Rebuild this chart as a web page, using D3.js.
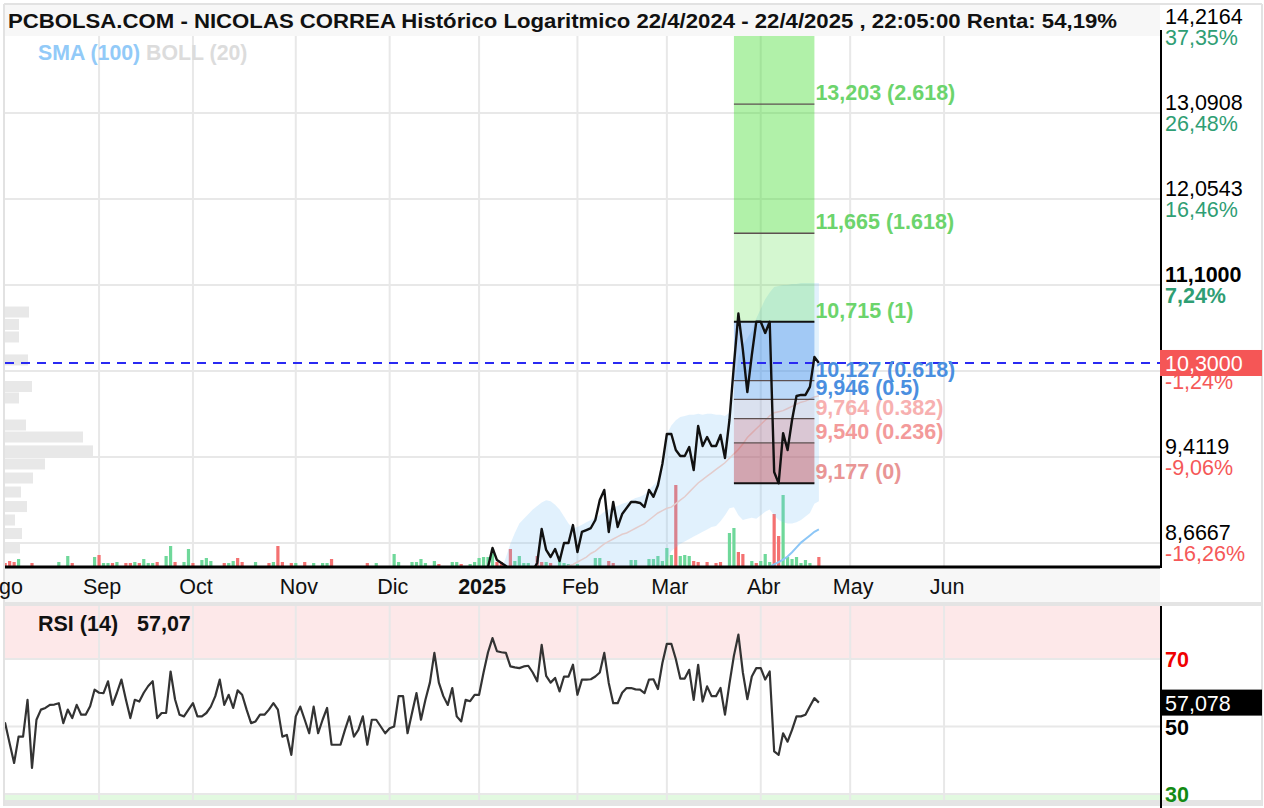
<!DOCTYPE html>
<html><head><meta charset="utf-8">
<script src="https://cdn.jsdelivr.net/npm/d3@7"></script>
<style>body{margin:0;background:#fff}svg{display:block}text{font-family:"Liberation Sans",Arial,sans-serif}</style>
</head><body><svg id="c" width="1264" height="808"></svg>
<script>
// ---------------- DATA ----------------
const titleText = "PCBOLSA.COM - NICOLAS CORREA Histórico Logaritmico 22/4/2024 - 22/4/2025 , 22:05:00 Renta: 54,19%";
const holidays = ["2024-12-25","2024-12-26","2025-01-01","2025-04-18","2025-04-21","2025-05-01"];
const monthKeys = ["2024-08","2024-09","2024-10","2024-11","2024-12","2025-01","2025-02","2025-03","2025-04","2025-05","2025-06"];
const monthLabels = ["Ago","Sep","Oct","Nov","Dic","2025","Feb","Mar","Abr","May","Jun"];

const priceTicks = [14.2164, 13.0908, 12.0543, 11.1, 10.2213, 9.4119, 8.6667];
const priceTickLabels = ["14,2164","13,0908","12,0543","11,1000","10,2213","9,4119","8,6667"];
const pctTickLabels = ["37,35%","26,48%","16,46%","7,24%","-1,24%","-9,06%","-16,26%"];
const boldTick = 11.1;
const lastPrice = 10.3, lastPriceLabel = "10,3000";

const closeStart = "2025-01-02";
const closeVals = [8.36,8.40,8.47,8.625,8.526,8.502,8.478,8.43,8.40,8.38,
8.36,8.40,8.44,8.502,8.784,8.609,8.551,8.617,8.518,8.667,
8.667,8.817,8.592,8.759,8.775,8.792,8.86,9.031,9.119,8.759,
9.014,8.801,8.911,8.962,9.014,9.014,9.006,8.971,9.119,9.06,
9.16,9.35,9.622,9.622,9.475,9.421,9.421,9.503,9.295,9.696,
9.512,9.594,9.512,9.512,9.613,9.403,9.752,10.28,10.80,10.43,
10.017,10.379,10.715,10.715,10.601,10.715,9.277,9.177,9.63,9.475,
9.752,9.979,9.989,9.989,10.066,10.359,10.30];

const bollUpper = [8.20,8.22,8.25,8.32,8.38,8.44,8.55,8.66,8.75,8.83,
8.87,8.91,8.95,8.98,9.01,9.03,9.02,8.99,8.95,8.89,
8.83,8.79,8.80,8.82,8.84,8.86,8.88,8.90,8.93,8.95,
8.97,8.98,9.00,9.01,9.03,9.05,9.06,9.08,9.12,9.16,
9.20,9.40,9.62,9.70,9.75,9.78,9.79,9.80,9.80,9.81,
9.80,9.81,9.81,9.80,9.80,9.79,9.82,10.05,10.35,10.48,
10.55,10.62,10.75,10.85,10.95,11.02,11.08,11.09,11.10,11.10,
11.11,11.11,11.12,11.12,11.12,11.12,11.12];
const bollLower = [8.05,8.06,8.05,8.02,8.00,7.98,7.97,7.96,7.96,7.97,
7.98,8.00,8.02,8.04,8.03,8.02,8.03,8.05,8.08,8.12,
8.16,8.20,8.22,8.24,8.26,8.28,8.30,8.30,8.29,8.30,
8.32,8.34,8.35,8.37,8.38,8.40,8.41,8.42,8.43,8.44,
8.44,8.45,8.52,8.60,8.63,8.66,8.68,8.70,8.72,8.74,
8.76,8.78,8.80,8.81,8.85,8.90,8.96,8.97,8.90,8.86,
8.87,8.88,8.87,8.90,8.93,8.95,8.90,8.86,8.84,8.83,
8.83,8.84,8.86,8.89,8.92,9.00,9.02];
const bollMid = [8.12,8.13,8.14,8.16,8.17,8.19,8.20,8.22,8.24,8.26,
8.28,8.30,8.32,8.34,8.36,8.38,8.40,8.42,8.44,8.46,
8.48,8.49,8.51,8.53,8.55,8.58,8.60,8.63,8.66,8.68,
8.70,8.72,8.74,8.75,8.77,8.79,8.81,8.83,8.86,8.89,
8.92,8.94,8.96,8.97,9.00,9.03,9.06,9.10,9.14,9.18,
9.21,9.24,9.27,9.30,9.33,9.36,9.40,9.44,9.48,9.53,
9.59,9.63,9.67,9.71,9.75,9.79,9.82,9.83,9.84,9.86,
9.88,9.90,9.92,9.93,9.95,9.97,9.98];
const smaStart = "2025-03-27";
const sma100 = [8.35,8.38,8.40,8.43,8.45,8.47,8.49,8.51,8.53,8.555,8.59,8.63,8.67,8.70,8.73,8.76,8.78];

const seriesStart = "2024-08-01";
const volumes = [2,3,5,4,7,0,0,3,0,0, 0,0,0,4,0,10,3,0,0,0, 0,9,11,3,3,3,4,0,3,3,
4,3,7,3,3,4,0,10,20,4, 0,4,17,3,0,6,8,5,0,0, 3,3,5,8,4,0,0,4,0,0,
3,4,20,4,0,3,3,0,4,0, 3,0,3,3,7,0,0,0,0,0, 0,0,3,0,3,0,0,0,12,4,
0,0,4,4,7,3,0,5,2,0, 0,4,4,2,0,2,4,8,9,9, 17,4,4,0,17,5,10,3,3,0,
10,4,4,3,0,10,3,2,0,2, 0,0,0,8,8,0,5,3,0,0, 0,6,6,0,0,7,7,10,5,18,
11,81,10,11,10,5,4,0,4,0, 3,4,0,33,38,14,12,0,5,3, 5,12,4,52,30,71,9,7,9,3, 6,3,0,9];
const volDir = "rrrrgggrgg"+"ggggggrggg"+"ggrggrggrr"+"grgggrgggr"+"gggrgggggg"+"rggrrggggg"+"rgrrgrggrg"+"ggggrggggg"+"ggrggggggg"+"ggggggggrg"+"gggrgggggg"+"grrgrggggg"+"rrgrgggggg"+"ggggggrrgg"+"gggggggggg"+"grgggrrgrg"+"rrgggrrggr"+"gggrrggggg"+"gggr";

const rsiVals = [50,51,45,39.2,47,47,57.9,37.7,52,55, 55.5,56.4,56.5,56.9,51,55,52.5,56.4,53.5,53.5,
56,60.9,60,59.9,63.4,56.4,60,63.9,58,52.5, 57.9,57.4,60,62,63.4,52.5,54,54,66.3,58,
53.5,53,55,56.9,53,53,54,55.9,59,63.9, 56.4,59.4,55.5,60.7,59.4,55,51,51.5,53.5,53.5,
55,56.9,55,47,47.5,41.6,53,55.9,52,48, 55.9,48,52,55.5,44.6,44.6,44.6,49,53,47,
49,53,44.6,52,52,50,48,49.5,50,59, 59,48,54,59.9,52,57.9,63,71.8,63,59,
56.4,61.4,53,51.5,57.9,57.5,59.4,59.4,66,72, 76.2,72.3,72,71.8,67.8,67.5,67.3,67.8,68,66,
63.4,74.2,65,63,64.4,60.4,64.8,64.8,68.3,59.4, 63.9,63.9,64,64.8,66,71.8,62.9,56.9,56.9,60,
61.4,61.4,61,60.9,59.9,63.9,64,61.1,68.8,74.5, 74.5,70,64.2,64.2,66.8,57.9,68.3,57.4,61.9,59,
59,61.4,53.5,62.7,71,77.2,66,58.1,64.8,67.3, 67.3,63.9,66.3,42.6,41.6,48,45.5,49,53,53,
53.5,56,58.4,57.08];
const rsiLabel = "57,07", rsiBoxLabel = "57,078";
const rsiTicks = [70, 50, 30];

const vpPrice = [10.816,10.688,10.560,10.330,10.070,9.960,9.705,9.594,9.467,9.349,9.224,9.101,8.975,8.860,8.746,8.626];
const vpVol   = [24,14,14,23,27,14,21,78,88,40,28,16,22,10,17,15];

const fibFrom = "2025-03-24", fibTo = "2025-04-17";
const fibValues = [9.177, 9.540, 9.764, 9.946, 10.127, 10.715, 11.665, 13.203];
const fibLabels = ["9,177 (0)","9,540 (0.236)","9,764 (0.382)","9,946 (0.5)","10,127 (0.618)","10,715 (1)","11,665 (1.618)","13,203 (2.618)"];
const fibLabelColors = ["#e99595","#f39a9a","#f7b0b0","#4a8fe0","#4a8fe0","#6cd46c","#6cd46c","#6cd46c"];
const fibBandColors = ["rgba(190,60,70,0.42)","rgba(200,80,95,0.26)","rgba(185,140,170,0.16)","rgba(33,120,230,0.2)","rgba(33,120,230,0.33)","rgba(60,220,40,0.22)","rgba(60,220,40,0.40)","rgba(60,220,40,0.40)"];

// ---------------- LAYOUT ----------------
const L = 5, R = 1160, T = 36, B = 567;
const RT = 606, RB = 800;
const svg = d3.select("#c");
const fmt = d3.timeFormat("%Y-%m-%d");
const calendar = d3.timeDay.range(new Date(2024,7,1), new Date(2025,6,1))
  .filter(d => d.getDay()!==0 && d.getDay()!==6 && !holidays.includes(fmt(d)));
const dayIndex = new Map(calendar.map((d,i)=>[fmt(d), i]));
const x = d3.scaleLinear().domain([0, 259.3]).range([0.7, 1160]);
const xs = (start, k) => x(dayIndex.get(start) + k);
const monthX = monthKeys.map(k => x(calendar.findIndex(d => fmt(d).startsWith(k))));
const y = d3.scaleLog().domain([8.6667, 14.2164]).range([543, 27]);
const ry = d3.scaleLinear().domain([30, 70]).range([794, 659]);
const vy = d3.scaleLinear().domain([0, 100]).range([566, 466]);
const vpx = d3.scaleLinear().domain([0, 100]).range([L, L + 100]);

const defs = svg.append("defs");
defs.append("clipPath").attr("id","cp").append("rect").attr("x",L).attr("y",T).attr("width",R-L).attr("height",B-T);
defs.append("clipPath").attr("id","cr").append("rect").attr("x",L).attr("y",RT).attr("width",R-L).attr("height",RB-RT);

svg.append("rect").attr("width",1264).attr("height",808).attr("fill","#fff");

// ---------- main plot ----------
const gm = svg.append("g").attr("clip-path","url(#cp)");
gm.selectAll(".hg").data(priceTicks).join("line")
  .attr("x1",L).attr("x2",R).attr("y1",d=>y(d)).attr("y2",d=>y(d))
  .attr("stroke","#e8e8e8").attr("stroke-width",2);
gm.selectAll(".vg").data(monthX).join("line")
  .attr("x1",d=>d).attr("x2",d=>d).attr("y1",T).attr("y2",B)
  .attr("stroke","#e8e8e8").attr("stroke-width",2);

// volume profile
gm.selectAll(".vp").data(vpPrice).join("rect")
  .attr("x",L).attr("y",d=>y(d)-5.5).attr("height",11)
  .attr("width",(d,i)=>vpx(vpVol[i])-L).attr("fill","#e8e8e8");

// volume bars
gm.selectAll(".vol").data(volumes).join("rect")
  .attr("x",(d,i)=>xs(seriesStart,i)-1.6).attr("width",3.2)
  .attr("y",d=>vy(d)).attr("height",d=>vy(0)-vy(d))
  .attr("fill",(d,i)=>volDir[i]==="g" ? "#6fd89a" : "#f47171");

// bollinger band
const band = d3.area().x((d,k)=>xs(closeStart,k)).y0((d,k)=>y(bollLower[k])).y1(d=>y(d));
gm.append("path").datum(bollUpper).attr("d",band).attr("fill","rgba(120,190,245,0.22)");
gm.append("path").datum(bollMid)
  .attr("d",d3.line().x((d,k)=>xs(closeStart,k)).y(d=>y(d)))
  .attr("fill","none").attr("stroke","#e3cccc").attr("stroke-width",1.5);
gm.append("path").datum(sma100)
  .attr("d",d3.line().x((d,k)=>xs(smaStart,k)).y(d=>y(d)))
  .attr("fill","none").attr("stroke","#8cc6f6").attr("stroke-width",2);

// fibonacci
const fx0 = xs(fibFrom,0), fx1 = xs(fibTo,0);
const fibTops = fibValues.slice(1).concat([null]);
gm.selectAll(".fb").data(fibValues).join("rect")
  .attr("x",fx0).attr("width",fx1-fx0)
  .attr("y",(d,i)=> fibTops[i]===null ? T : y(fibTops[i]))
  .attr("height",(d,i)=> y(d) - (fibTops[i]===null ? T : y(fibTops[i])))
  .attr("fill",(d,i)=>fibBandColors[i]);
gm.selectAll(".fl").data(fibValues).join("line")
  .attr("x1",fx0).attr("x2",fx1).attr("y1",d=>y(d)).attr("y2",d=>y(d))
  .attr("stroke",(d,i)=> (i===0||i===5) ? "#111" : "#5d5050")
  .attr("stroke-width",(d,i)=> (i===0||i===5) ? 2 : 1.3);

// last price dashed line
gm.append("line").attr("x1",L).attr("x2",R).attr("y1",y(lastPrice)).attr("y2",y(lastPrice))
  .attr("stroke","#2a2af2").attr("stroke-width",2).attr("stroke-dasharray","9,7");

// price line
gm.append("path").datum(closeVals)
  .attr("d",d3.line().x((d,k)=>xs(closeStart,k)).y(d=>y(d)))
  .attr("fill","none").attr("stroke","#111").attr("stroke-width",2.4).attr("stroke-linejoin","round");

// fib labels
svg.selectAll(".fbt").data(fibValues).join("text")
  .attr("x",fx1+1).attr("y",d=>y(d)-4)
  .attr("font-size",21.5).attr("font-weight","bold")
  .attr("fill",(d,i)=>fibLabelColors[i]).text((d,i)=>fibLabels[i]);

// indicator legend
const lg = svg.append("text").attr("x",38).attr("y",60).attr("font-size",21.3).attr("font-weight","bold");
lg.append("tspan").attr("fill","#92caf8").text("SMA (100) ");
lg.append("tspan").attr("fill","#dcdcdc").text("BOLL (20)");

// ---------- title bar & frame ----------
svg.append("rect").attr("x",L).attr("y",4).attr("width",R-L).attr("height",T-4).attr("fill","#f7f7f7");
svg.append("text").attr("x",8).attr("y",28).attr("font-family","'Open Sans','Noto Sans',sans-serif")
  .attr("font-weight","bold").attr("font-size",20.5).attr("fill","#111")
  .attr("textLength",1109).attr("lengthAdjust","spacingAndGlyphs").text(titleText);
svg.append("line").attr("x1",4).attr("x2",1262).attr("y1",4).attr("y2",4).attr("stroke","#e2e2e2").attr("stroke-width",2);
svg.append("line").attr("x1",4).attr("x2",4).attr("y1",4).attr("y2",806).attr("stroke","#e2e2e2").attr("stroke-width",2);
svg.append("line").attr("x1",1262).attr("x2",1262).attr("y1",4).attr("y2",806).attr("stroke","#e2e2e2").attr("stroke-width",2);

// ---------- right price axis ----------
svg.append("line").attr("x1",R+1).attr("x2",R+1).attr("y1",30).attr("y2",B+1).attr("stroke","#000").attr("stroke-width",2);
priceTicks.forEach((v,i)=>{
  const yy = y(v);
  svg.append("text").attr("x",1165).attr("y",yy-3).attr("font-size",21.5)
    .attr("font-weight", v===boldTick?"bold":"normal").attr("fill","#000").text(priceTickLabels[i]);
  svg.append("text").attr("x",1165).attr("y",yy+18).attr("font-size",21.5)
    .attr("font-weight", v===boldTick?"bold":"normal")
    .attr("fill", pctTickLabels[i].startsWith("-") ? "#f55858" : "#2f9e74").text(pctTickLabels[i]);
});
svg.append("rect").attr("x",R).attr("y",y(lastPrice)-13).attr("width",102).attr("height",26).attr("fill","#f55656");
svg.append("text").attr("x",1165).attr("y",y(lastPrice)+8).attr("font-size",21.5).attr("fill","#fff").text(lastPriceLabel);

// ---------- x axis band ----------
svg.append("rect").attr("x",L).attr("y",B+1).attr("width",R-L).attr("height",34).attr("fill","#f7f7f7");
svg.append("line").attr("x1",L).attr("x2",R).attr("y1",B).attr("y2",B).attr("stroke","#000").attr("stroke-width",3);
svg.append("rect").attr("x",L).attr("y",602).attr("width",1257).attr("height",4).attr("fill","#e4e4e4");
svg.selectAll(".mt").data(monthX).join("text")
  .attr("x",d=>d+3).attr("y",594).attr("text-anchor","middle").attr("font-size",21.5)
  .attr("font-weight",(d,i)=>monthLabels[i]==="2025"?"bold":"normal").attr("fill","#111")
  .text((d,i)=>monthLabels[i]);

// ---------- RSI panel ----------
const gr = svg.append("g").attr("clip-path","url(#cr)");
gr.append("rect").attr("x",L).attr("y",RT).attr("width",R-L).attr("height",ry(70)-RT).attr("fill","#fde8e9");
gr.append("rect").attr("x",L).attr("y",ry(30)).attr("width",R-L).attr("height",RB-ry(30)).attr("fill","#e2f9e0");
gr.selectAll(".rh").data(rsiTicks).join("line")
  .attr("x1",L).attr("x2",R).attr("y1",d=>ry(d)).attr("y2",d=>ry(d)).attr("stroke","#e8e8e8").attr("stroke-width",2);
gr.selectAll(".rv").data(monthX).join("line")
  .attr("x1",d=>d).attr("x2",d=>d).attr("y1",RT).attr("y2",RB).attr("stroke","#e8e8e8").attr("stroke-width",2);
gr.append("path").datum(rsiVals)
  .attr("d",d3.line().x((d,k)=>xs(seriesStart,k)).y(d=>ry(d)))
  .attr("fill","none").attr("stroke","#333").attr("stroke-width",2.2).attr("stroke-linejoin","round");
svg.append("rect").attr("x",L).attr("y",RB).attr("width",1257).attr("height",6).attr("fill","#e4e4e4");

const rt = svg.append("text").attr("x",38).attr("y",631).attr("font-size",21.5).attr("font-weight","bold").attr("fill","#111");
rt.append("tspan").text("RSI (14)");
rt.append("tspan").attr("x",137).text(rsiLabel);

svg.append("line").attr("x1",R+1).attr("x2",R+1).attr("y1",RT).attr("y2",808).attr("stroke","#000").attr("stroke-width",2);
const rsiTickColors = ["#f00000","#000","#138a13"];
rsiTicks.forEach((v,i)=>{
  svg.append("text").attr("x",1165).attr("y",ry(v)+8).attr("font-size",21.5).attr("font-weight","bold")
    .attr("fill",rsiTickColors[i]).text(v);
});
const lastRsi = rsiVals[rsiVals.length-1];
svg.append("rect").attr("x",R).attr("y",ry(lastRsi)-13).attr("width",102).attr("height",26).attr("fill","#000");
svg.append("text").attr("x",1165).attr("y",ry(lastRsi)+8).attr("font-size",21.5).attr("fill","#fff").text(rsiBoxLabel);
</script></body></html>
